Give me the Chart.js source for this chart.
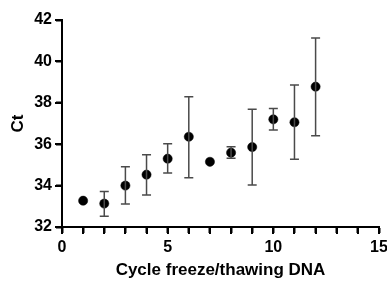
<!DOCTYPE html>
<html>
<head>
<meta charset="utf-8">
<script src="https://cdn.jsdelivr.net/npm/chart.js@4.4.1/dist/chart.umd.min.js"></script>
<style>
  html, body { margin: 0; padding: 0; background: #fff; }
  #wrap { width: 387px; height: 281px; }
</style>
</head>
<body>
<div id="wrap"><canvas id="myChart" width="387" height="281"></canvas></div>
<script>
const cycles = [1, 2, 3, 4, 5, 6, 7, 8, 9, 10, 11, 12];
const ctMean = [33.27, 33.13, 34.0, 34.53, 35.3, 36.36, 35.15, 35.59, 35.86, 37.2, 37.06, 38.78];
const ctHigh = [33.27, 33.71, 34.91, 35.49, 36.02, 38.29, 35.15, 35.88, 37.69, 37.73, 38.86, 41.13];
const ctLow = [33.27, 32.52, 33.11, 33.55, 34.61, 34.38, 35.15, 35.32, 34.03, 36.69, 35.27, 36.41];
const yTicks = [32, 34, 36, 38, 40, 42];
const xTicks = [0, 1, 2, 3, 4, 5, 6, 7, 8, 9, 10, 11, 12, 13, 14, 15];
const xLabelTicks = [0, 5, 10, 15];

const font = { family: '"Liberation Sans", Arial, sans-serif', weight: 'bold' };

// whiskers, placed with the chart's own scales
const errorBars = {
  id: 'errorBars',
  afterDatasetsDraw(chart) {
    const ctx = chart.ctx;
    const xs = chart.scales.x;
    const ys = chart.scales.y;
    ctx.save();
    ctx.strokeStyle = '#4a4a4a';
    ctx.lineWidth = 1.5;
    for (let i = 0; i < cycles.length; i++) {
      const x = xs.getPixelForValue(cycles[i]);
      const yTop = ys.getPixelForValue(ctHigh[i]);
      const yBot = ys.getPixelForValue(ctLow[i]);
      if (yBot - yTop < 2) continue;
      ctx.beginPath();
      ctx.moveTo(x, yTop); ctx.lineTo(x, yBot);
      ctx.moveTo(x - 4.5, yTop); ctx.lineTo(x + 4.5, yTop);
      ctx.moveTo(x - 4.5, yBot); ctx.lineTo(x + 4.5, yBot);
      ctx.stroke();
    }
    ctx.restore();
  },
  // axis tick marks (outside the plot area)
  afterDraw(chart) {
    const ctx = chart.ctx;
    const xs = chart.scales.x;
    const ys = chart.scales.y;
    const area = chart.chartArea;
    ctx.save();
    ctx.strokeStyle = '#000';
    ctx.lineWidth = 2;
    ctx.beginPath();
    for (const v of yTicks) {
      const y = Math.round(ys.getPixelForValue(v));
      ctx.moveTo(area.left - 7, y);
      ctx.lineTo(area.left, y);
    }
    for (const v of xTicks) {
      const x = Math.round(xs.getPixelForValue(v));
      ctx.moveTo(x, area.bottom);
      ctx.lineTo(x, area.bottom + 7);
    }
    ctx.stroke();
    ctx.restore();
  }
};

const ctx = document.getElementById('myChart');
new Chart(ctx, {
  type: 'scatter',
  data: {
    datasets: [{
      data: cycles.map((c, i) => ({ x: c, y: ctMean[i] })),
      backgroundColor: '#000',
      borderColor: '#000',
      borderWidth: 0.5,
      pointRadius: 4.6,
      pointHoverRadius: 4.6
    }]
  },
  options: {
    responsive: false,
    animation: false,
    layout: { padding: { top: 20, right: 8, left: 0, bottom: 0 } },
    plugins: { legend: { display: false }, tooltip: { enabled: false } },
    scales: {
      x: {
        type: 'linear',
        min: 0, max: 15,
        afterFit(scale) { scale.height = 54; scale.paddingLeft = 0; scale.paddingRight = 0; },
        afterBuildTicks(scale) { scale.ticks = xTicks.map(v => ({ value: v })); },
        border: { display: true, color: '#000', width: 2 },
        grid: { drawOnChartArea: false, drawTicks: true, tickLength: 6, color: '#000', tickColor: '#000', tickWidth: 2 },
        ticks: {
          autoSkip: false,
          maxRotation: 0,
          padding: 5,
          color: '#000',
          font: { ...font, size: 16 },
          callback: v => xLabelTicks.includes(v) ? String(v) : ''
        },
        title: {
          display: true,
          text: 'Cycle freeze/thawing DNA',
          color: '#000',
          font: { ...font, size: 17 },
          padding: { top: 0, bottom: 0 }
        }
      },
      y: {
        min: 32, max: 42,
        afterFit(scale) { scale.width = 62; },
        afterBuildTicks(scale) { scale.ticks = yTicks.map(v => ({ value: v })); },
        border: { display: true, color: '#000', width: 2 },
        grid: { drawOnChartArea: false, drawTicks: true, tickLength: 6, color: '#000', tickColor: '#000', tickWidth: 2 },
        ticks: {
          padding: 4,
          color: '#000',
          font: { ...font, size: 16 }
        },
        title: {
          display: true,
          text: 'Ct',
          color: '#000',
          font: { ...font, size: 17 },
          padding: { top: 8, bottom: 0 }
        }
      }
    }
  },
  plugins: [errorBars]
});
</script>
</body>
</html>
